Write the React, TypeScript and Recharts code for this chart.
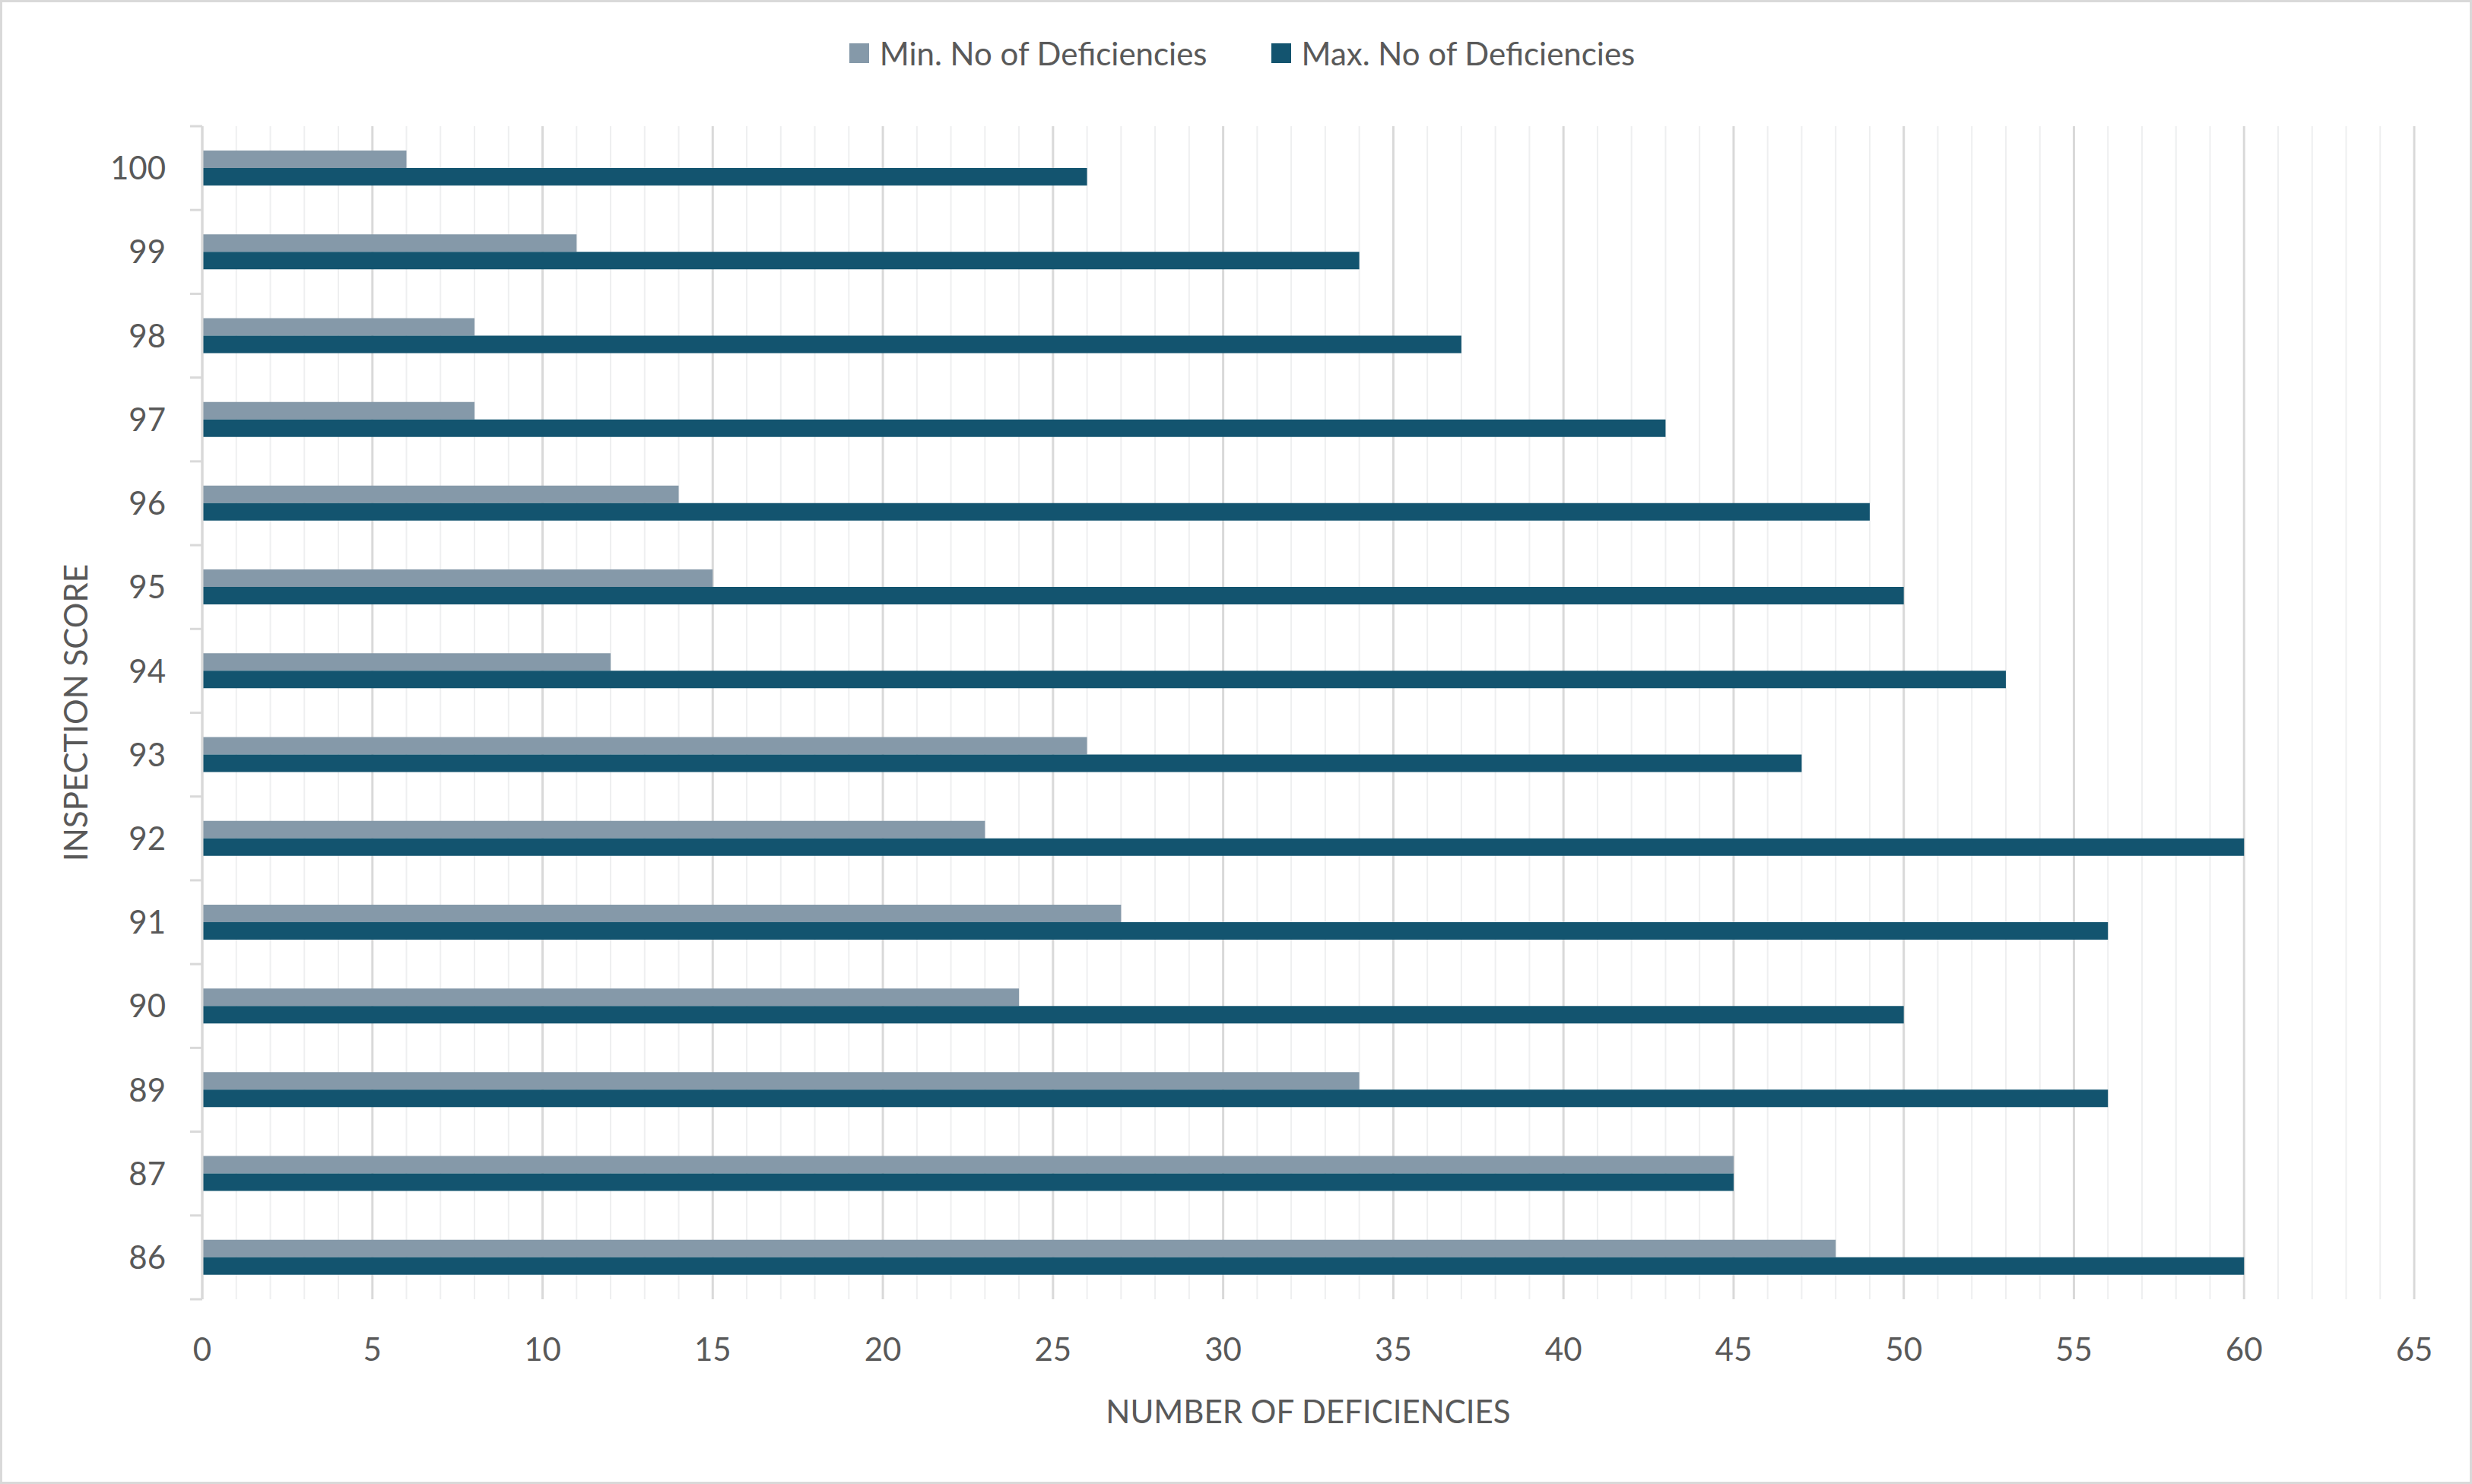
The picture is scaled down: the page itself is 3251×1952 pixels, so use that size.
import React from "react";
import {
  BarChart,
  Bar,
  XAxis,
  YAxis,
  CartesianGrid,
  Legend,
  Label,
} from "recharts";

const scores = ["100", "99", "98", "97", "96", "95", "94", "93", "92", "91", "90", "89", "87", "86"];
const minDeficiencies = [6, 11, 8, 8, 14, 15, 12, 26, 23, 27, 24, 34, 45, 48];
const maxDeficiencies = [26, 34, 37, 43, 49, 50, 53, 47, 60, 56, 50, 56, 45, 60];
const seriesOrder = ["min", "max"];
const xTicks = [0, 5, 10, 15, 20, 25, 30, 35, 40, 45, 50, 55, 60, 65];
const minorTicks = Array.from({ length: 65 }, (_, i) => i + 1).filter(v => v % 5 !== 0);

const MIN_COLOR = "#8599a9";
const MAX_COLOR = "#13546f";
const TEXT = "#595959";
const MAJOR_GRID = "#d9d9d9";
const MINOR_GRID = "#eeeff0";
const FONT = "'Source Sans Pro', Lato, 'Noto Sans', sans-serif";

const W = 3245;
const H = 1946;
const LEGEND_H = 50;
const PLOT_TOP = 163;
// recharts adds the legend height on top of margin.top
const MARGIN = { top: PLOT_TOP - LEGEND_H, right: 73, bottom: 0, left: 0 };
const Y_AXIS_W = 263;
const X_AXIS_H = 240;
const X_MAX = 65;
const BAND = (H - PLOT_TOP - X_AXIS_H) / scores.length;

const data = scores.map((score, i) => ({
  score,
  min: minDeficiencies[i],
  max: maxDeficiencies[i],
}));

const ScoreTick = (props: any) => {
  const { x, y, payload, index } = props;
  const half = BAND / 2;
  return (
    <g>
      <line x1={x - 16} x2={x} y1={y - half} y2={y - half} stroke={MAJOR_GRID} strokeWidth={3} />
      {index === scores.length - 1 && (
        <line x1={x - 16} x2={x} y1={y + half} y2={y + half} stroke={MAJOR_GRID} strokeWidth={3} />
      )}
      <text x={x - 48} y={y} dy="0.36em" textAnchor="end" fill={TEXT} fontSize={42} fontFamily={FONT}>
        {payload.value}
      </text>
    </g>
  );
};

const LegendContent = (props: any) => {
  const items = [...(props.payload || [])].sort(
    (a: any, b: any) => seriesOrder.indexOf(a.dataKey) - seriesOrder.indexOf(b.dataKey)
  );
  return (
    <div style={{ display: "flex", justifyContent: "center", alignItems: "center", height: LEGEND_H, paddingLeft: 16 }}>
      {items.map((entry: any, i: number) => (
        <div key={i} style={{ display: "flex", alignItems: "center", marginLeft: i === 0 ? 0 : 84 }}>
          <div style={{ width: 26, height: 26, background: entry.color, marginRight: 14 }} />
          <span style={{ color: TEXT, fontSize: 42, fontFamily: FONT, lineHeight: `${LEGEND_H}px` }}>{entry.value}</span>
        </div>
      ))}
    </div>
  );
};

// minor gridlines at every unit between the labelled ticks
const minorGrid = ({ xAxis, offset }: any) =>
  minorTicks.map(v =>
    xAxis && typeof xAxis.scale === "function"
      ? xAxis.scale(v)
      : offset.left + (v / X_MAX) * offset.width
  );

export default function App() {
  return (
    <div style={{ width: 3251, height: 1952, boxSizing: "border-box", border: "3px solid #d9d9d9", background: "#fff" }}>
      <style>{"body{margin:0;}"}</style>
      <BarChart
        width={W}
        height={H}
        data={data}
        layout="vertical"
        margin={MARGIN}
        barCategoryGap={0}
        barGap={0}
      >
        <CartesianGrid
          horizontal={false}
          stroke={MINOR_GRID}
          strokeWidth={2}
          verticalCoordinatesGenerator={minorGrid}
        />
        <CartesianGrid horizontal={false} stroke={MAJOR_GRID} strokeWidth={3} />
        <XAxis
          type="number"
          domain={[0, X_MAX]}
          ticks={xTicks}
          interval={0}
          axisLine={false}
          tickLine={false}
          tickSize={0}
          tickMargin={51}
          height={X_AXIS_H}
          tick={{ fill: TEXT, fontSize: 42, fontFamily: FONT }}
        >
          <Label
            content={(p: any) => {
              const vb = p.viewBox;
              return (
                <text
                  x={vb.x + vb.width / 2}
                  y={vb.y + 148}
                  dy="0.36em"
                  textAnchor="middle"
                  fill={TEXT}
                  fontSize={42}
                  fontFamily={FONT}
                >
                  NUMBER OF DEFICIENCIES
                </text>
              );
            }}
          />
        </XAxis>
        <YAxis
          type="category"
          dataKey="score"
          width={Y_AXIS_W}
          interval={0}
          tickLine={false}
          tickSize={0}
          tickMargin={0}
          axisLine={{ stroke: MAJOR_GRID, strokeWidth: 3 }}
          tick={<ScoreTick />}
        >
          <Label
            content={(p: any) => {
              const vb = p.viewBox;
              const cx = vb.x + 97;
              const cy = vb.y + vb.height / 2;
              return (
                <text
                  x={cx}
                  y={cy}
                  dy="0.36em"
                  textAnchor="middle"
                  transform={`rotate(-90 ${cx} ${cy})`}
                  fill={TEXT}
                  fontSize={42}
                  fontFamily={FONT}
                >
                  INSPECTION SCORE
                </text>
              );
            }}
          />
        </YAxis>
        <Legend
          verticalAlign="top"
          align="center"
          content={<LegendContent />}
          wrapperStyle={{ top: 42, left: 0, width: W }}
        />
        <Bar dataKey="min" name="Min. No of Deficiencies" fill={MIN_COLOR} barSize={23} isAnimationActive={false} />
        <Bar dataKey="max" name="Max. No of Deficiencies" fill={MAX_COLOR} barSize={23} isAnimationActive={false} />
      </BarChart>
    </div>
  );
}
